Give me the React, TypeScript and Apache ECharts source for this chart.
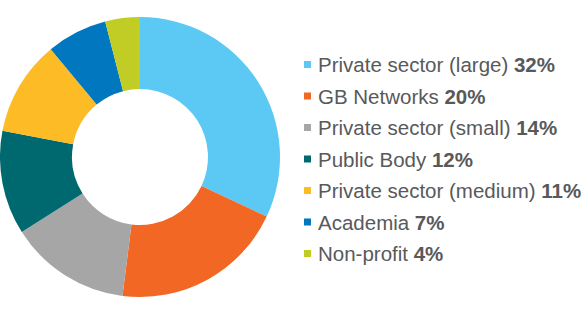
import React, { useEffect, useRef } from "react";
import * as echarts from "echarts";

const categories = [
  "Private sector (large)",
  "GB Networks",
  "Private sector (small)",
  "Public Body",
  "Private sector (medium)",
  "Academia",
  "Non-profit",
];
const values = [32, 20, 14, 12, 11, 7, 4];
const colors = ["#5BC9F4", "#F26724", "#A6A6A6", "#00696F", "#FDBC25", "#0077BF", "#C1CD24"];

export default function App() {
  const ref = useRef<HTMLDivElement>(null);
  useEffect(() => {
    if (!ref.current) return;
    const chart = echarts.init(ref.current, undefined, { renderer: "svg" });
    const pct: Record<string, number> = {};
    categories.forEach((c, i) => (pct[c] = values[i]));
    chart.setOption({
      animation: false,
      color: colors,
      legend: {
        orient: "vertical",
        left: 299,
        top: 49,
        itemWidth: 7,
        itemHeight: 7,
        itemGap: 10.5,
        icon: "rect",
        selectedMode: false,
        data: categories,
        formatter: (name: string) => `{s|}{n|${name}} {b|${pct[name]}%}`,
        textStyle: {
          fontFamily: "Liberation Sans",
          fontSize: 20.5,
          color: "#58595B",
          lineHeight: 21,
          rich: {
            s: { width: 2 },
            n: { fontFamily: "Liberation Sans", fontSize: 20.5, color: "#58595B", lineHeight: 21 },
            b: { fontFamily: "Liberation Sans", fontSize: 20.5, fontWeight: "bold", color: "#58595B", lineHeight: 21 },
          },
        },
      },
      series: [
        {
          type: "pie",
          center: [140, 157],
          radius: [68, 140],
          startAngle: 90,
          clockwise: true,
          label: { show: false },
          labelLine: { show: false },
          emphasis: { disabled: true },
          itemStyle: { borderWidth: 0 },
          data: categories.map((c, i) => ({ name: c, value: values[i] })),
        },
      ],
    });
    return () => chart.dispose();
  }, []);
  return (
    <div
      ref={ref}
      style={{ position: "fixed", left: 0, top: 0, width: 581, height: 320, background: "#fff" }}
    />
  );
}
